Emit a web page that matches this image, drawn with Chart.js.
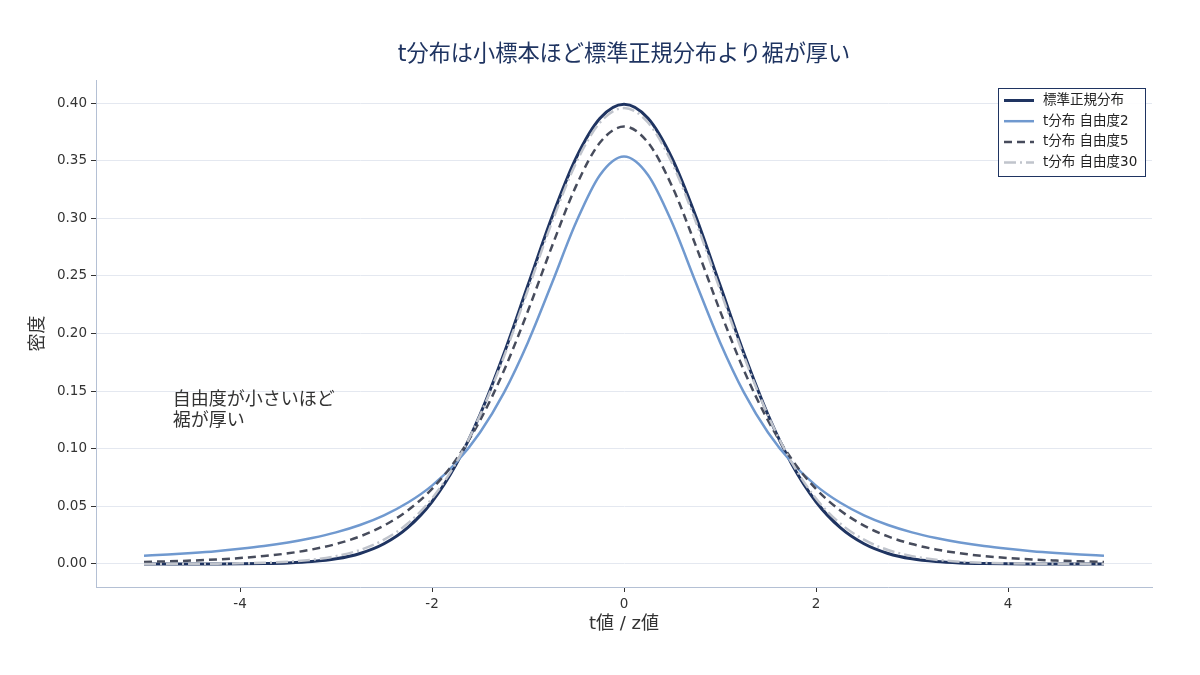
<!DOCTYPE html>
<html><head><meta charset="utf-8">
<script src="https://cdn.jsdelivr.net/npm/chart.js@4"></script>
<style>html,body{margin:0;padding:0;background:#fff}#wrap{width:1200px;height:675px}</style>
</head><body><div id="wrap"><canvas id="c" width="1200" height="675"></canvas></div>
<script>
const xValues = [-5,-4.75,-4.5,-4.25,-4,-3.75,-3.5,-3.25,-3,-2.75,-2.5,-2.25,-2,-1.75,-1.5,-1.25,-1,-0.75,-0.5,-0.25,0,0.25,0.5,0.75,1,1.25,1.5,1.75,2,2.25,2.5,2.75,3,3.25,3.5,3.75,4,4.25,4.5,4.75,5];
const normalVals = [0.0000015,0.000005,0.000016,0.00005,0.00013,0.00035,0.00087,0.00203,0.00443,0.0091,0.0175,0.0317,0.0540,0.0863,0.1295,0.1826,0.2420,0.3011,0.3521,0.3867,0.3989,0.3867,0.3521,0.3011,0.2420,0.1826,0.1295,0.0863,0.0540,0.0317,0.0175,0.0091,0.00443,0.00203,0.00087,0.00035,0.00013,0.00005,0.000016,0.000005,0.0000015];
const t2Vals = [0.00713,0.00821,0.00953,0.0111,0.0131,0.0155,0.0186,0.0225,0.0274,0.0338,0.0422,0.0533,0.0680,0.0878,0.1141,0.1487,0.1925,0.2438,0.2963,0.3376,0.3536,0.3376,0.2963,0.2438,0.1925,0.1487,0.1141,0.0878,0.0680,0.0533,0.0422,0.0338,0.0274,0.0225,0.0186,0.0155,0.0131,0.0111,0.00953,0.00821,0.00713];
const t5Vals = [0.00176,0.00227,0.00295,0.00387,0.00512,0.00685,0.00924,0.0126,0.0173,0.0239,0.0333,0.0466,0.0651,0.0905,0.1245,0.1679,0.2197,0.2757,0.3279,0.3657,0.3796,0.3657,0.3279,0.2757,0.2197,0.1679,0.1245,0.0905,0.0651,0.0466,0.0333,0.0239,0.0173,0.0126,0.00924,0.00685,0.00512,0.00387,0.00295,0.00227,0.00176];
const t30Vals = [0.00003,0.00007,0.00013,0.00027,0.00052,0.00102,0.00196,0.00369,0.00678,0.0121,0.0211,0.0353,0.0568,0.0877,0.1290,0.1801,0.2380,0.2966,0.3479,0.3831,0.3956,0.3831,0.3479,0.2966,0.2380,0.1801,0.1290,0.0877,0.0568,0.0353,0.0211,0.0121,0.00678,0.00369,0.00196,0.00102,0.00052,0.00027,0.00013,0.00007,0.00003];
const seriesNames = ['標準正規分布','t分布 自由度2','t分布 自由度5','t分布 自由度30'];
const xTicks = [-4,-2,0,2,4];
const yTicks = [0,0.05,0.10,0.15,0.20,0.25,0.30,0.35,0.40];
const titleText = 't分布は小標本ほど標準正規分布より裾が厚い';
const xTitle = 't値 / z値';
const yTitle = '密度';
const noteLines = ['自由度が小さいほど','裾が厚い'];
const noteX = -4.7, noteY = 0.142;

const FONT = '"DejaVu Sans","Noto Sans CJK JP",sans-serif';
const styles = [
  {color:'#1f3461', width:3, dash:[]},
  {color:'#7099cf', width:2.5, dash:[]},
  {color:'#474c5c', width:2.5, dash:[8,5]},
  {color:'#c0c4cc', width:2.5, dash:[12,4,2,4]}
];
const seriesVals = [normalVals,t2Vals,t5Vals,t30Vals];
const datasets = seriesVals.map((vals,i)=>({
  label: seriesNames[i],
  data: vals.map((v,j)=>({x:xValues[j], y:v})),
  borderColor: styles[i].color,
  backgroundColor: styles[i].color,
  borderWidth: styles[i].width,
  borderDash: styles[i].dash,
  pointRadius: 0,
  fill: false,
  cubicInterpolationMode: 'monotone',
  order: 4 - i
}));

const overlay = {
  id: 'overlay',
  afterDatasetsDraw(chart){
    const ctx = chart.ctx, xs = chart.scales.x, ys = chart.scales.y, ca = chart.chartArea;
    ctx.save();
    // title
    ctx.fillStyle = '#1f3461';
    ctx.font = '22.2px ' + FONT;
    ctx.textAlign = 'center';
    ctx.textBaseline = 'middle';
    ctx.fillText(titleText, (ca.left + ca.right) / 2, 55);
    // annotation
    ctx.fillStyle = '#333333';
    ctx.font = '18px ' + FONT;
    ctx.textAlign = 'left';
    const px = xs.getPixelForValue(noteX), py = ys.getPixelForValue(noteY);
    noteLines.forEach((t,k)=>ctx.fillText(t, px, py + k*21));
    // legend
    const lx = 998.5, ly = 88.5, lw = 147, lh = 88;
    ctx.fillStyle = 'rgba(255,255,255,0.9)';
    ctx.fillRect(lx, ly, lw, lh);
    ctx.strokeStyle = '#1f3461';
    ctx.lineWidth = 1;
    ctx.setLineDash([]);
    ctx.strokeRect(lx, ly, lw, lh);
    ctx.font = '13.5px ' + FONT;
    seriesNames.forEach((name,i)=>{
      const yy = 100.5 + i*20.7;
      ctx.strokeStyle = styles[i].color;
      ctx.lineWidth = styles[i].width;
      ctx.setLineDash(styles[i].dash);
      ctx.beginPath(); ctx.moveTo(1004, yy); ctx.lineTo(1034, yy); ctx.stroke();
      ctx.setLineDash([]);
      ctx.fillStyle = '#222222';
      ctx.fillText(name, 1043, yy);
    });
    ctx.restore();
  }
};

new Chart(document.getElementById('c'), {
  type: 'line',
  data: { datasets },
  options: {
    responsive: false,
    animation: false,
    layout: { padding: { left: 0, right: 48, top: 80, bottom: 0 } },
    plugins: {
      legend: { display: false },
      tooltip: { enabled: false },
      title: { display: false }
    },
    scales: {
      x: {
        type: 'linear', min: -5.5, max: 5.5,
        afterBuildTicks: s => { s.ticks = xTicks.map(v=>({value:v})); },
        afterFit: s => { s.height = 88; },
        grid: { drawOnChartArea: false, tickLength: 5, tickColor: '#333', tickWidth: 1 },
        border: { color: '#b4c0d4', width: 1 },
        ticks: { color: '#333', font: { family: FONT, size: 13.5 }, padding: 4, maxRotation: 0,
          callback: v => String(v) },
        title: { display: true, text: xTitle, color: '#333',
          font: { family: FONT, size: 18 }, padding: { top: 4, bottom: 40 } }
      },
      y: {
        type: 'linear', min: -0.02, max: 0.42,
        afterBuildTicks: s => { s.ticks = yTicks.map(v=>({value:v})); },
        afterFit: s => { s.width = 96; },
        grid: { color: '#e4e8f0', lineWidth: 1, tickLength: 5, tickColor: '#333', tickWidth: 1 },
        border: { color: '#b4c0d4', width: 1 },
        ticks: { color: '#333', font: { family: FONT, size: 13.5 }, padding: 4,
          callback: v => Number(v).toFixed(2) },
        title: { display: true, text: yTitle, color: '#333',
          font: { family: FONT, size: 18 }, padding: { top: 28, bottom: 0 } }
      }
    }
  },
  plugins: [overlay]
});
</script>
</body></html>
